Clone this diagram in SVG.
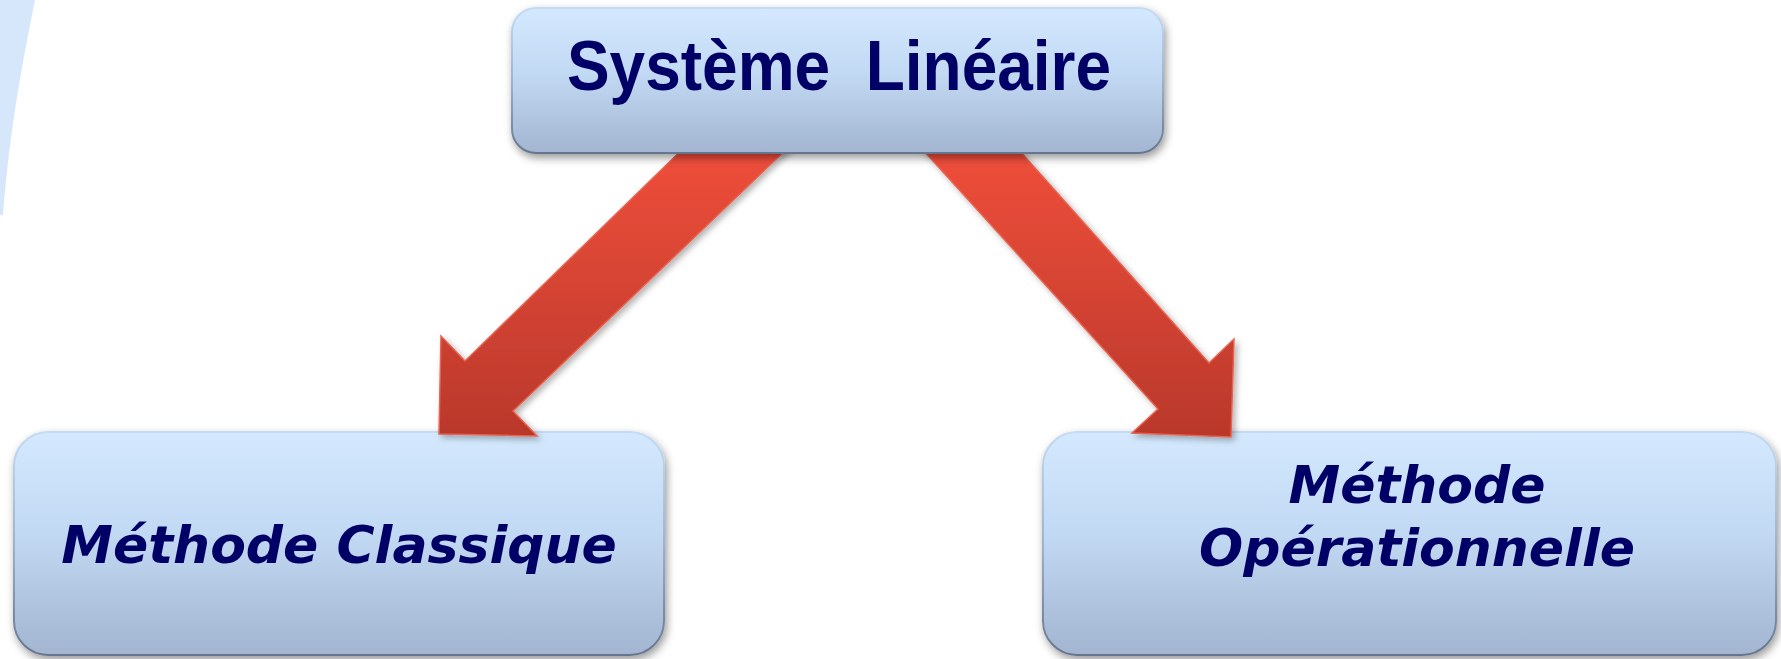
<svg xmlns="http://www.w3.org/2000/svg" width="1781" height="659" viewBox="0 0 1781 659">
  <defs>
    <linearGradient id="boxFill" x1="0" y1="0" x2="0" y2="1">
      <stop offset="0" stop-color="#d4e9fe"/>
      <stop offset="0.45" stop-color="#c2d9f4"/>
      <stop offset="1" stop-color="#a3b5d0"/>
    </linearGradient>
    <linearGradient id="boxStroke" x1="0" y1="0" x2="0" y2="1">
      <stop offset="0" stop-color="#c4dbf3"/>
      <stop offset="0.5" stop-color="#9fb3cd"/>
      <stop offset="1" stop-color="#66768e"/>
    </linearGradient>
    <linearGradient id="arrowFill" x1="0" y1="0" x2="0" y2="1">
      <stop offset="0" stop-color="#f14f3b"/>
      <stop offset="1" stop-color="#b9382b"/>
    </linearGradient>
    <filter id="boxShadow" x="-10%" y="-10%" width="120%" height="130%">
      <feDropShadow dx="2" dy="4" stdDeviation="4" flood-color="#000" flood-opacity="0.4"/>
    </filter>
    <filter id="arrowShadow" x="-10%" y="-10%" width="130%" height="130%">
      <feDropShadow dx="3" dy="3" stdDeviation="3" flood-color="#000" flood-opacity="0.3"/>
    </filter>
  </defs>
  <style>
    .box { fill: url(#boxFill); stroke: url(#boxStroke); stroke-width: 2; filter: url(#boxShadow); }
    .arrow { fill: url(#arrowFill); stroke: #e8624f; stroke-width: 1.5; stroke-linejoin: miter; filter: url(#arrowShadow); }
    .title { font-family: "Liberation Sans", Arial, sans-serif; font-weight: bold; font-size: 64px; fill: #000066; white-space: pre; }
    .label { font-family: "DejaVu Sans", Verdana, sans-serif; font-weight: bold; font-style: italic; font-size: 52px; fill: #000066; }
  </style>

  <rect width="1781" height="659" fill="#ffffff"/>
  <!-- pale blue sweep on the left margin -->
  <path d="M0,0 H35 C24,55 10,125 3,215 L0,215 Z" fill="#d7e7fb"/>

  <g id="node-classique">
    <rect class="box" x="14" y="432" width="650" height="223" rx="34" ry="34"/>
    <text class="label" x="339" y="563" text-anchor="middle">Méthode Classique</text>
  </g>

  <g id="node-operationnelle">
    <rect class="box" x="1043" y="432" width="733" height="223" rx="34" ry="34"/>
    <text class="label" x="1417" y="503" text-anchor="middle">Méthode</text>
    <text class="label" x="1417" y="566" text-anchor="middle">Opérationnelle</text>
  </g>

  <g id="connectors">
    <polygon class="arrow" points="692,140 796,140 513,411 537,436 439,434 441,336 465,361"/>
    <polygon class="arrow" points="914,140 1010,140 1209,363 1234,339 1231,437 1132,433 1158,409"/>
  </g>

  <g id="node-systeme">
    <rect class="box" x="512" y="8" width="651" height="145" rx="24" ry="24"/>
    <!-- title is set slightly taller than the regular face -->
    <text class="title" transform="translate(839,90) scale(1,1.1)" x="0" y="0" text-anchor="middle">Système  Linéaire</text>
  </g>
</svg>
